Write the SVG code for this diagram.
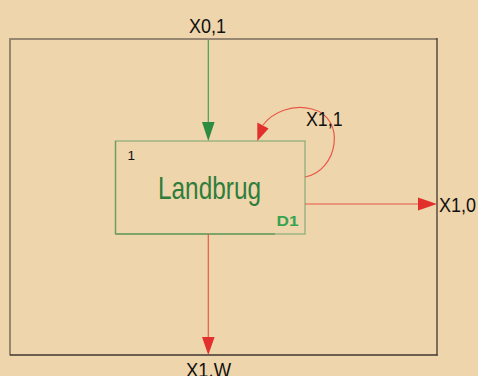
<svg xmlns="http://www.w3.org/2000/svg" width="478" height="376" viewBox="0 0 478 376">
<defs>
<style>
.lbl{font-family:"Liberation Sans",Arial,sans-serif;font-size:21px;fill:#111;}
.red{stroke:#e8584a;stroke-width:1.2;fill:none;}
.redh{fill:#e2312c;}
</style>
</defs>
<rect x="0" y="0" width="478" height="376" fill="#EFD5AB"/>
<g id="frame">
<line x1="10" y1="39" x2="437" y2="39" stroke="#978770" stroke-width="2"/>
<line x1="10" y1="38" x2="10" y2="355.5" stroke="#978770" stroke-width="2"/>
<line x1="437" y1="38" x2="437" y2="355.5" stroke="#3f3630" stroke-width="1.3"/>
<line x1="10" y1="355" x2="437.6" y2="355" stroke="#3f3630" stroke-width="1.3"/>
</g>
<g id="node-landbrug">
<rect x="115.5" y="141" width="189.5" height="93" fill="none" stroke="#8fb07c" stroke-width="1.3"/>
<line x1="115.5" y1="141" x2="115.5" y2="234" stroke="#6c9e5e" stroke-width="1.3"/>
<line x1="115.5" y1="234" x2="275" y2="234" stroke="#6c9e5e" stroke-width="1.3"/>
<text x="127.5" y="160" font-family="'Liberation Sans',Arial,sans-serif" font-size="13.5" fill="#111">1</text>
<text x="158" y="198.5" font-family="'Liberation Sans',Arial,sans-serif" font-size="30.5" fill="#2e7d3a" textLength="103" lengthAdjust="spacingAndGlyphs">Landbrug</text>
<text x="276.5" y="226" font-family="'Liberation Sans',Arial,sans-serif" font-size="15" font-weight="bold" fill="#36a450" textLength="22" lengthAdjust="spacingAndGlyphs">D1</text>
</g>
<g id="connectors">
<line x1="208.3" y1="40" x2="208.3" y2="123" stroke="#45a055" stroke-width="1.2"/>
<polygon points="202,122 214.6,122 208.3,141" fill="#2e8b42"/>
<path class="red" d="M305,177 C338,171 347,118 312,109 C292,104 273,112 263,125"/>
<polygon class="redh" points="257.3,122.5 268.6,128.5 257.3,141"/>
<line class="red" x1="305" y1="204" x2="419" y2="204"/>
<polygon class="redh" points="418,197.5 418,210.5 437,204"/>
<line class="red" x1="208.3" y1="234" x2="208.3" y2="338"/>
<polygon class="redh" points="202,337 214.6,337 208.3,355"/>
</g>
<g id="labels">
<text class="lbl" x="189" y="33.3" textLength="37" lengthAdjust="spacingAndGlyphs">X0,1</text>
<text class="lbl" x="306" y="126" textLength="36.5" lengthAdjust="spacingAndGlyphs">X1,1</text>
<text class="lbl" x="439" y="211.7" textLength="37" lengthAdjust="spacingAndGlyphs">X1,0</text>
<text class="lbl" x="186" y="376.5" textLength="45" lengthAdjust="spacingAndGlyphs">X1,W</text>
</g>
</svg>
